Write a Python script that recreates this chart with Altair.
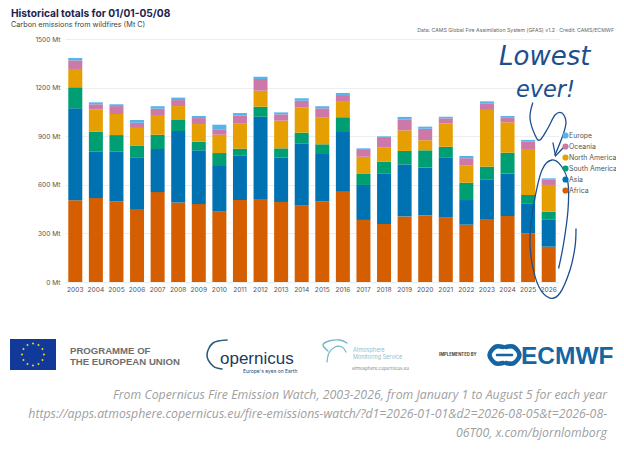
import altair as alt
import pandas as pd

years = list(range(2003, 2027))
africa = [504,518,496,450,555,490,481,436,506,512,494,473,496,561,383,358,405,411,397,354,389,407,300,218]
asia = [568,286,308,320,266,442,332,280,273,508,275,383,294,365,216,313,321,295,373,152,245,262,186,169]
south_america = [130,124,103,70,88,68,53,80,44,62,56,66,60,91,68,72,83,107,65,107,78,129,51,47]
north_america = [113,138,130,111,122,86,109,113,154,99,171,154,164,100,106,86,127,62,145,105,350,188,284,165]
oceania = [53,31,49,32,39,37,37,34,52,72,39,43,58,37,42,60,68,71,30,46,41,31,45,35]
europe = [15,12,11,17,15,15,13,28,14,14,12,15,13,13,10,10,15,13,10,14,12,8,11,6]

regions = ["Africa", "Asia", "South America", "North America", "Oceania", "Europe"]
series = [africa, asia, south_america, north_america, oceania, europe]
legend_order = ["Europe", "Oceania", "North America", "South America", "Asia", "Africa"]
colors = ["#56B4E9", "#CC79A7", "#E69F00", "#009E73", "#0072B2", "#D55E00"]

rows = []
for i, (r, s) in enumerate(zip(regions, series)):
    for y, v in zip(years, s):
        rows.append({"year": str(y), "region": r, "value": v, "ord": i})
df = pd.DataFrame(rows)

W, H = 494, 243
OX, OY = 65, 39
UI = "Inter"

bars = alt.Chart(df).mark_bar().encode(
    x=alt.X("year:N", title=None, scale=alt.Scale(paddingInner=0.32, paddingOuter=0.16),
            axis=alt.Axis(labelAngle=0, labelFontSize=6.6, labelColor="#555555", labelFont=UI,
                          ticks=False, domain=False, labelPadding=4)),
    y=alt.Y("value:Q", title=None, stack="zero", scale=alt.Scale(domain=[0, 1500], nice=False),
            axis=alt.Axis(values=[0, 300, 600, 900, 1200, 1500], labelExpr="datum.value + ' Mt'",
                          labelFontSize=6.6, labelColor="#555555", labelFont=UI, ticks=False,
                          domain=False, gridColor="#eeeeee", labelPadding=5)),
    color=alt.Color("region:N", scale=alt.Scale(domain=legend_order, range=colors),
                    legend=alt.Legend(orient="none", legendX=497, legendY=93, title=None,
                                      symbolType="circle", symbolSize=38, labelFontSize=6.9,
                                      labelColor="#555555", labelFont=UI, rowPadding=3,
                                      symbolStrokeWidth=0, labelOffset=0)),
    order=alt.Order("ord:Q"),
)

px = alt.Scale(domain=[0, W], range=[0, W], nice=False, zero=False)
py = alt.Scale(domain=[0, H], range=[0, H], nice=False, zero=False)


def pos(frame):
    return dict(
        x=alt.X("x:Q", scale=px, axis=None),
        y=alt.Y("y:Q", scale=py, axis=None),
    )


def txt(text, x, y, size, color="#555555", font=UI, weight="normal", style="normal", align="left"):
    d = pd.DataFrame({"x": [x - OX], "y": [y - OY], "t": [text]})
    return alt.Chart(d).mark_text(fontSize=size, color=color, font=font, fontWeight=weight,
                                  fontStyle=style, align=align, baseline="alphabetic").encode(
        text="t:N", **pos(d))


def curve(xs, ys, color, width=1.3, interp="cardinal"):
    d = pd.DataFrame({"x": [v - OX for v in xs], "y": [v - OY for v in ys], "i": range(len(xs))})
    return alt.Chart(d).mark_line(color=color, strokeWidth=width, interpolate=interp,
                                  strokeCap="round").encode(order="i:Q", **pos(d))


def box(x0, x1, y0, y1, color):
    d = pd.DataFrame({"x": [x0 - OX], "x2": [x1 - OX], "y": [y0 - OY], "y2": [y1 - OY]})
    return alt.Chart(d).mark_rect(color=color).encode(x2="x2:Q", y2="y2:Q", **pos(d))


INK = "#1b4f8f"
loop_x = [532.7, 530, 535, 540, 548, 555, 562, 566, 563, 555]
loop_y = [103, 118, 135, 140, 128, 115, 113, 122, 135, 155]
head_x = [553, 555.5, 563]
head_y = [143, 156, 148]
ring_x = [558.7, 563.7, 568, 568, 562, 552, 542, 534, 530, 532, 539, 550, 560, 570, 575, 576]
ring_y = [268, 243, 210, 183, 167, 160, 170, 203, 237, 263, 287, 298, 293, 270, 247, 229]

star_dx = [0, 5.5, 9.5, 11, 9.5, 5.5, 0, -5.5, -9.5, -11, -9.5, -5.5]
star_dy = [-11, -9.5, -5.5, 0, 5.5, 9.5, 11, 9.5, 5.5, 0, -5.5, -9.5]
stars_df = pd.DataFrame({"x": [33 + v - OX for v in star_dx], "y": [354.5 + v - OY for v in star_dy]})
stars = alt.Chart(stars_df).mark_point(shape="diamond", filled=True, color="#f5d327", size=6, opacity=1).encode(**pos(stars_df))

layers = [
    bars,
    txt("Historical totals for 01/01-05/08", 11, 17, 10.2, "#1c2350", weight="bold"),
    txt("Carbon emissions from wildfires (Mt C)", 11, 26.5, 7.25, "#444444"),
    txt("Data: CAMS Global Fire Assimilation System (GFAS) v1.2 · Credit: CAMS/ECMWF", 614, 32, 5.2, "#666666", align="right"),
    txt("Lowest", 499, 65, 26, INK, font="DejaVu Sans", style="italic"),
    txt("ever!", 516, 97, 22.4, INK, font="DejaVu Sans", style="italic"),
    curve(loop_x, loop_y, INK),
    curve(head_x, head_y, INK, interp="linear"),
    curve(ring_x, ring_y, INK),
    box(10, 56, 339, 370, "#10399a"),
    stars,
    txt("PROGRAMME OF", 70, 353.5, 9.6, "#6e6e6e", font="Liberation Sans", weight="bold"),
    txt("THE EUROPEAN UNION", 70, 364.5, 9.6, "#6e6e6e", font="Liberation Sans", weight="bold"),
    curve([227, 213, 207, 213, 222], [340, 343, 355, 366, 369], "#2a5a78", width=1.6),
    txt("opernicus", 220, 364, 17, "#1c3a5e", font="Liberation Sans"),
    txt("Europe's eyes on Earth", 243, 373, 5, "#1c4a7a"),
    curve([328, 323, 329, 340, 347], [351, 345, 341, 340, 343], "#6fb9c4", width=1.4),
    curve([327, 329, 335, 342, 346], [362, 353, 347, 347, 352], "#6fb9c4", width=1.2),
    txt("Atmosphere", 353, 352, 5.5, "#8fc0cb"),
    txt("Monitoring Service", 353, 358.5, 5.5, "#8fc0cb"),
    txt("atmosphere.copernicus.eu", 352, 370, 4.5, "#888888"),
    txt("IMPLEMENTED BY", 439, 356, 4.2, "#444444", weight="bold"),
    curve([503, 495, 489.5, 495, 503], [347, 347, 355, 363, 363], "#1565a5", width=4.5),
    curve([506, 514, 519.5, 514, 506], [347, 347, 355, 363, 363], "#1565a5", width=4.5),
    curve([497, 512], [355, 355], "#1565a5", width=2.5, interp="linear"),
    txt("ECMWF", 521, 364, 24.5, "#1565a5", font="Liberation Sans", weight="bold"),
    txt("From Copernicus Fire Emission Watch, 2003-2026, from January 1 to August 5 for each year", 607, 399, 12.3, "#a0a0a0", font="Open Sans", style="italic", align="right"),
    txt("https://apps.atmosphere.copernicus.eu/fire-emissions-watch/?d1=2026-01-01&d2=2026-08-05&t=2026-08-", 607, 418, 12.3, "#a0a0a0", font="Open Sans", style="italic", align="right"),
    txt("06T00, x.com/bjornlomborg", 607, 437, 12.3, "#a0a0a0", font="Open Sans", style="italic", align="right"),
]

chart = alt.layer(*layers).resolve_scale(x="independent", y="independent").properties(
    width=W, height=H,
    autosize=alt.AutoSizeParams(type="none"),
    padding={"left": OX - 8, "top": OY - 8, "right": 608 - (OX - 8) - W, "bottom": 435 - (OY - 8) - H},
).configure_view(stroke=None)

chart.save("out.html", embed_options={"renderer": "svg", "actions": False})
